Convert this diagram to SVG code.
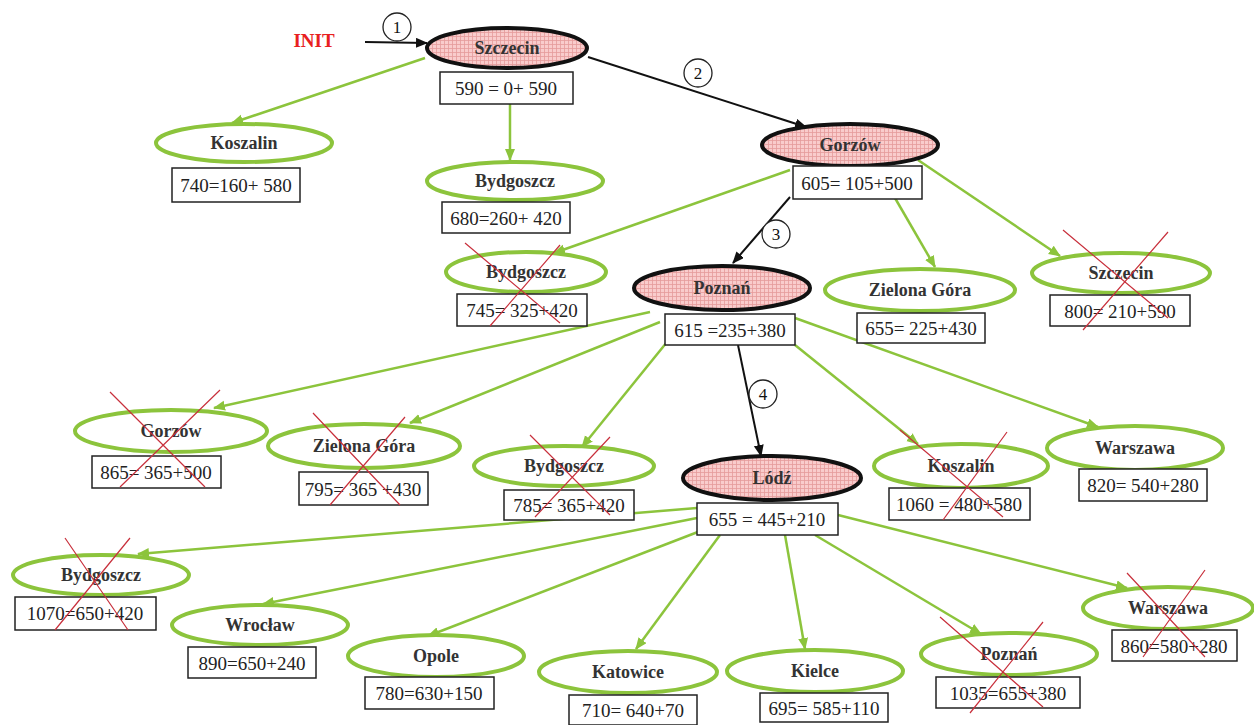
<svg xmlns="http://www.w3.org/2000/svg" width="1254" height="725" viewBox="0 0 1254 725" font-family="'Liberation Serif', 'Times New Roman', serif">
<defs>
<pattern id="grid" width="4" height="4" patternUnits="userSpaceOnUse">
<rect width="4" height="4" fill="#f9cccc"/>
<path d="M0 0.5H4M0.5 0V4" stroke="#e59a9a" stroke-width="0.8"/>
</pattern>
<marker id="ga" markerUnits="userSpaceOnUse" markerWidth="14" markerHeight="12" refX="11" refY="5" orient="auto">
<path d="M0 0L12 5L0 10Z" fill="#8cc43c"/>
</marker>
<marker id="ba" markerUnits="userSpaceOnUse" markerWidth="14" markerHeight="12" refX="11" refY="5" orient="auto">
<path d="M0 0L12 5L0 10Z" fill="#111"/>
</marker>
<style>
.g{stroke:#8cc43c;stroke-width:2.5;fill:none;marker-end:url(#ga)}
.b{stroke:#111;stroke-width:2;fill:none;marker-end:url(#ba)}
.en{fill:#fff;stroke:#8cc43c;stroke-width:4}
.er{fill:url(#grid);stroke:#111;stroke-width:4}
.lbl{font-weight:bold;font-size:18px;fill:#333;text-anchor:middle}
.bx{fill:#fff;stroke:#222;stroke-width:1.5}
.num{font-size:19px;fill:#222;text-anchor:middle}
.x{stroke:#c8303c;stroke-width:1.2;fill:none}
.nc{fill:#fff;stroke:#222;stroke-width:1.3}
.nt{font-size:17px;fill:#111;text-anchor:middle}
.init{font-weight:bold;font-size:19px;fill:#e82020;text-anchor:middle}
</style>
</defs>
<rect width="1254" height="725" fill="#fff"/>
<text class="init" x="314" y="47">INIT</text>
<g id="connectors">
<path class="b" d="M365 42L427 43"/>
<path class="g" d="M425 58L232 123"/>
<path class="g" d="M510 104L510 160"/>
<path class="b" d="M588 57L806 127"/>
<path class="g" d="M790 170L554 253"/>
<path class="b" d="M790 197L733 263"/>
<path class="g" d="M895 198L935 267"/>
<path class="g" d="M918 160L1060 256"/>
<path class="g" d="M650 312L214 408"/>
<path class="g" d="M660 322L410 423"/>
<path class="g" d="M667 342L582 447"/>
<path class="b" d="M738 345L761 456"/>
<path class="g" d="M795 345L918 444"/>
<path class="g" d="M795 318L1098 427"/>
<path class="g" d="M697 508L138 554"/>
<path class="g" d="M697 518L263 604"/>
<path class="g" d="M703 530L428 636"/>
<path class="g" d="M720 535L636 649"/>
<path class="g" d="M785 535L805 649"/>
<path class="g" d="M815 535L981 634"/>
<path class="g" d="M838 515L1127 588"/>
<circle class="nc" cx="397" cy="27" r="14"/><text class="nt" x="397" y="33">1</text>
<circle class="nc" cx="698" cy="73" r="14"/><text class="nt" x="698" y="79">2</text>
<circle class="nc" cx="776" cy="234" r="14"/><text class="nt" x="776" y="240">3</text>
<circle class="nc" cx="763" cy="394" r="14"/><text class="nt" x="763" y="400">4</text>
</g>
<g id="n1"><ellipse class="er" cx="507" cy="48" rx="80" ry="20"/><text class="lbl" x="507" y="54">Szczecin</text><rect class="bx" x="440" y="72" width="133" height="32"/><text class="num" x="506" y="95">590 = 0+ 590</text></g>
<g id="n2"><ellipse class="en" cx="244" cy="143" rx="88" ry="19"/><text class="lbl" x="244" y="149">Koszalin</text><rect class="bx" x="172" y="168" width="128" height="34"/><text class="num" x="236" y="192">740=160+ 580</text></g>
<g id="n3"><ellipse class="en" cx="515" cy="181" rx="88" ry="19"/><text class="lbl" x="515" y="187">Bydgoszcz</text><rect class="bx" x="442" y="202" width="128" height="31"/><text class="num" x="506" y="225">680=260+ 420</text></g>
<g id="n4"><ellipse class="er" cx="850" cy="145" rx="88" ry="21"/><text class="lbl" x="850" y="151">Gorzów</text><rect class="bx" x="793" y="166" width="129" height="33"/><text class="num" x="857" y="190">605= 105+500</text></g>
<g id="n5"><ellipse class="en" cx="526" cy="272" rx="80" ry="20"/><text class="lbl" x="526" y="278">Bydgoszcz</text><rect class="bx" x="457" y="294" width="130" height="32"/><text class="num" x="522" y="317">745= 325+420</text><path class="x" d="M465 243L560 323M560 245L490 326"/></g>
<g id="n6"><ellipse class="er" cx="722" cy="288" rx="88" ry="22"/><text class="lbl" x="722" y="294">Poznań</text><rect class="bx" x="665" y="314" width="130" height="31"/><text class="num" x="730" y="337">615 =235+380</text></g>
<g id="n7"><ellipse class="en" cx="920" cy="290" rx="95" ry="21"/><text class="lbl" x="920" y="296">Zielona Góra</text><rect class="bx" x="857" y="313" width="128" height="30"/><text class="num" x="921" y="335">655= 225+430</text></g>
<g id="n8"><ellipse class="en" cx="1121" cy="273" rx="89" ry="20"/><text class="lbl" x="1121" y="279">Szczecin</text><rect class="bx" x="1050" y="295" width="140" height="31"/><text class="num" x="1120" y="318">800= 210+590</text><path class="x" d="M1063 230L1168 318M1168 232L1083 330"/></g>
<g id="n9"><ellipse class="en" cx="171" cy="431" rx="96" ry="21"/><text class="lbl" x="171" y="437">Gorzów</text><rect class="bx" x="92" y="456" width="129" height="32"/><text class="num" x="156" y="479">865= 365+500</text><path class="x" d="M110 392L205 487M220 390L120 487"/></g>
<g id="n10"><ellipse class="en" cx="364" cy="446" rx="96" ry="22"/><text class="lbl" x="364" y="452">Zielona Góra</text><rect class="bx" x="299" y="472" width="129" height="33"/><text class="num" x="363" y="496">795= 365 +430</text><path class="x" d="M313 413L400 505M405 417L330 505"/></g>
<g id="n11"><ellipse class="en" cx="564" cy="466" rx="90" ry="20"/><text class="lbl" x="564" y="472">Bydgoszcz</text><rect class="bx" x="504" y="490" width="130" height="30"/><text class="num" x="569" y="512">785= 365+420</text><path class="x" d="M530 435L610 515M610 437L535 517"/></g>
<g id="n12"><ellipse class="er" cx="772" cy="478" rx="89" ry="22"/><text class="lbl" x="772" y="484">Lódź</text><rect class="bx" x="697" y="503" width="141" height="32"/><text class="num" x="767" y="526">655 = 445+210</text></g>
<g id="n13"><ellipse class="en" cx="961" cy="466" rx="87" ry="22"/><text class="lbl" x="961" y="472">Koszalin</text><rect class="bx" x="889" y="488" width="141" height="32"/><text class="num" x="959" y="511">1060 = 480+580</text><path class="x" d="M900 430L1003 517M1007 432L943 520"/></g>
<g id="n14"><ellipse class="en" cx="1135" cy="448" rx="88" ry="22"/><text class="lbl" x="1135" y="454">Warszawa</text><rect class="bx" x="1079" y="469" width="128" height="32"/><text class="num" x="1143" y="492">820= 540+280</text></g>
<g id="n15"><ellipse class="en" cx="101" cy="575" rx="88" ry="20"/><text class="lbl" x="101" y="581">Bydgoszcz</text><rect class="bx" x="15" y="597" width="141" height="33"/><text class="num" x="85" y="620">1070=650+420</text><path class="x" d="M65 538L128 630M130 538L55 630"/></g>
<g id="n16"><ellipse class="en" cx="260" cy="625" rx="88" ry="20"/><text class="lbl" x="260" y="631">Wrocław</text><rect class="bx" x="188" y="647" width="128" height="31"/><text class="num" x="252" y="670">890=650+240</text></g>
<g id="n17"><ellipse class="en" cx="436" cy="656" rx="88" ry="21"/><text class="lbl" x="436" y="662">Opole</text><rect class="bx" x="365" y="677" width="129" height="32"/><text class="num" x="429" y="700">780=630+150</text></g>
<g id="n18"><ellipse class="en" cx="628" cy="672" rx="89" ry="21"/><text class="lbl" x="628" y="678">Katowice</text><rect class="bx" x="569" y="695" width="128" height="30"/><text class="num" x="633" y="717">710= 640+70</text></g>
<g id="n19"><ellipse class="en" cx="815" cy="671" rx="88" ry="21"/><text class="lbl" x="815" y="677">Kielce</text><rect class="bx" x="760" y="693" width="128" height="29"/><text class="num" x="824" y="715">695= 585+110</text></g>
<g id="n20"><ellipse class="en" cx="1009" cy="654" rx="88" ry="21"/><text class="lbl" x="1009" y="660">Poznań</text><rect class="bx" x="936" y="677" width="144" height="31"/><text class="num" x="1008" y="700">1035=655+380</text><path class="x" d="M940 617L1043 707M1043 622L970 713"/></g>
<g id="n21"><ellipse class="en" cx="1168" cy="608" rx="85" ry="21"/><text class="lbl" x="1168" y="614">Warszawa</text><rect class="bx" x="1112" y="630" width="125" height="31"/><text class="num" x="1174" y="653">860=580+280</text><path class="x" d="M1127 573L1205 657M1205 570L1143 657"/></g>
</svg>
